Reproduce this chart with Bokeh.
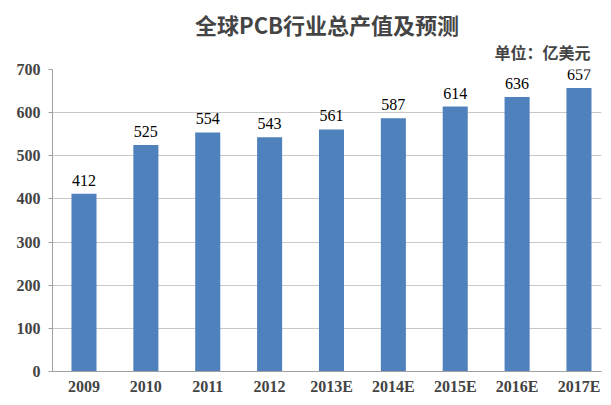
from bokeh.plotting import figure
from bokeh.models import ColumnDataSource, LabelSet, Title, FixedTicker, Range1d
from bokeh.embed import file_html
from bokeh.resources import INLINE

years = ["2009", "2010", "2011", "2012", "2013E", "2014E", "2015E", "2016E", "2017E"]
values = [412, 525, 554, 543, 561, 587, 614, 636, 657]
y_ticks = [0, 100, 200, 300, 400, 500, 600, 700]

x_idx = list(range(len(years)))
src = ColumnDataSource(dict(x=x_idx, top=values, lab=[str(v) for v in values]))

x_end = len(years) - 0.636
p = figure(x_range=Range1d(-0.509, x_end), y_range=Range1d(0, 700),
           width=603, height=397,
           output_backend="svg", toolbar_location=None,
           min_border_left=52, min_border_right=2, min_border_bottom=26, min_border_top=69)
p.outline_line_color = None

p.vbar(x="x", top="top", width=0.405, source=src, color="#4F81BD", line_color=None)

labels = LabelSet(x="x", y="top", text="lab", source=src, text_align="center",
                  text_baseline="bottom", y_offset=8, text_font="Liberation Serif",
                  text_font_size="16px", text_color="#000000")
p.add_layout(labels)

p.add_layout(Title(text="单位：亿美元", align="right", text_font="Noto Sans CJK SC",
                   text_font_size="16px", text_font_style="bold", offset=11, standoff=11), "above")
p.add_layout(Title(text="全球PCB行业总产值及预测", align="center", text_font="Noto Sans CJK SC",
                   text_font_size="22px", text_font_style="bold", standoff=-14, offset=11), "above")

p.yaxis.ticker = FixedTicker(ticks=y_ticks)
p.xaxis.ticker = FixedTicker(ticks=x_idx)
p.xaxis.major_label_overrides = {i: y for i, y in zip(x_idx, years)}
for ax in (p.xaxis, p.yaxis):
    ax.major_label_text_font = "Liberation Serif"
    ax.major_label_text_font_style = "bold"
    ax.major_label_text_font_size = "16px"
    ax.axis_line_color = "#A0A0A0"
    ax.major_tick_line_color = "#A0A0A0"
    ax.minor_tick_line_color = None
    ax.major_tick_in = 0
p.yaxis.major_tick_out = 4
p.xaxis.major_tick_out = 0
p.xaxis.major_label_standoff = 6
p.xaxis.major_label_text_line_height = 1.0
p.yaxis.major_label_standoff = 8

p.xgrid.grid_line_color = None
p.ygrid.grid_line_color = "#C8C8C8"

open("out.html", "w").write(file_html(p, INLINE))
